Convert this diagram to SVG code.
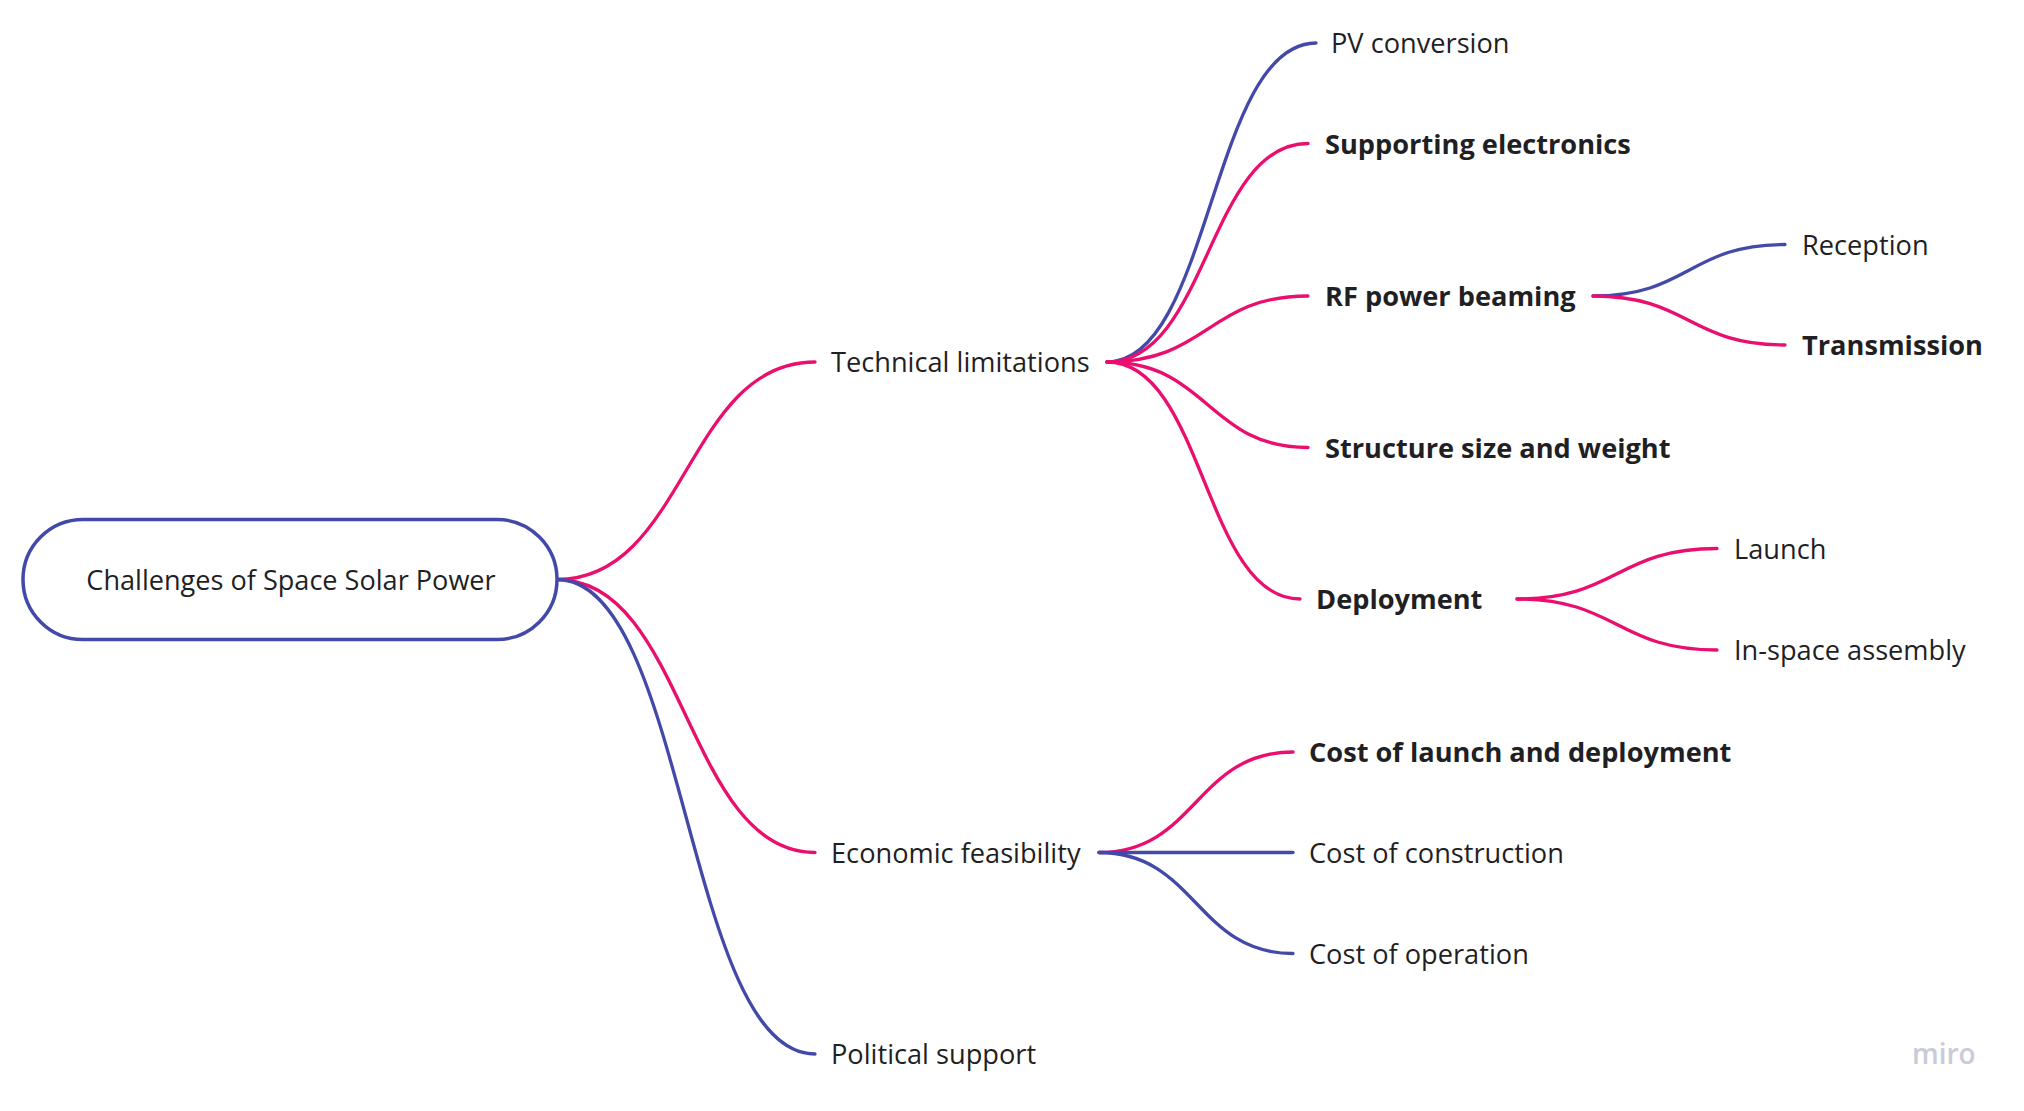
<svg xmlns="http://www.w3.org/2000/svg" width="2024" height="1111" viewBox="0 0 2024 1111">
<style>
.bg{fill:#ffffff}
.c{fill:none;stroke-width:3.3;stroke-linecap:round}
.p{stroke:#ea0f6e}
.b{stroke:#4349a8}
.t{font-family:"Open Sans","Noto Sans","Liberation Sans",sans-serif;font-size:27.2px;fill:#1f1f24}
.bold{font-weight:700}
.rt{font-size:27.1px}
.root{fill:#ffffff;stroke:#4349a8;stroke-width:3.5}
.wm{font-family:"Open Sans","Liberation Sans",sans-serif;font-size:28px;font-weight:600;fill:#c9cbd8}
</style>
<rect class="bg" x="0" y="0" width="2024" height="1111"/>
<g id="connectors">
  <path class="c p" d="M557,579.5 C686,579.5 686,362 815,362"/>
  <path class="c p" d="M557,579.5 C686,579.5 686,852.5 815,852.5"/>
  <path class="c b" d="M557,579.5 C686,579.5 686,1054 815,1054"/>
  <path class="c b" d="M1107,362 C1211,362 1211,43 1316,43"/>
  <path class="c p" d="M1107,362 C1208,362 1208,143.5 1308,143.5"/>
  <path class="c p" d="M1107,362 C1208,362 1208,296 1308,296"/>
  <path class="c p" d="M1107,362 C1208,362 1208,447.5 1308,447.5"/>
  <path class="c p" d="M1107,362 C1204,362 1204,599 1300,599"/>
  <path class="c b" d="M1593,296 C1689,296 1689,244.5 1785,244.5"/>
  <path class="c p" d="M1593,296 C1689,296 1689,345 1785,345"/>
  <path class="c p" d="M1517,599 C1617,599 1617,548.5 1717,548.5"/>
  <path class="c p" d="M1517,599 C1617,599 1617,650 1717,650"/>
  <path class="c p" d="M1099,852.5 C1196,852.5 1196,752 1293,752"/>
  <path class="c b" d="M1099,852.5 L1293,852.5"/>
  <path class="c b" d="M1099,852.5 C1196,852.5 1196,953.5 1293,953.5"/>
</g>
<g id="root">
  <rect class="root" x="23" y="519.5" width="534" height="120" rx="60" ry="60"/>
  <text class="t rt" x="291" y="589.5" text-anchor="middle">Challenges of Space Solar Power</text>
</g>
<g id="technical"><text class="t" x="831" y="372">Technical limitations</text></g>
<g id="economic"><text class="t" x="831" y="862.5">Economic feasibility</text></g>
<g id="political"><text class="t" x="831" y="1064">Political support</text></g>
<g id="pv"><text class="t" x="1331" y="53">PV conversion</text></g>
<g id="supporting"><text class="t bold" x="1325" y="153.5">Supporting electronics</text></g>
<g id="rf"><text class="t bold" x="1325" y="306">RF power beaming</text></g>
<g id="structure"><text class="t bold" x="1325" y="457.5">Structure size and weight</text></g>
<g id="deployment"><text class="t bold" x="1316" y="609">Deployment</text></g>
<g id="reception"><text class="t" x="1802" y="254.5">Reception</text></g>
<g id="transmission"><text class="t bold" x="1802" y="355">Transmission</text></g>
<g id="launch"><text class="t" x="1734" y="558.5">Launch</text></g>
<g id="inspace"><text class="t" x="1734" y="660">In-space assembly</text></g>
<g id="costlaunch"><text class="t bold" x="1309" y="762">Cost of launch and deployment</text></g>
<g id="costconstruction"><text class="t" x="1309" y="862.5">Cost of construction</text></g>
<g id="costoperation"><text class="t" x="1309" y="963.5">Cost of operation</text></g>
<text class="wm" x="1912" y="1063.5">miro</text>
</svg>
